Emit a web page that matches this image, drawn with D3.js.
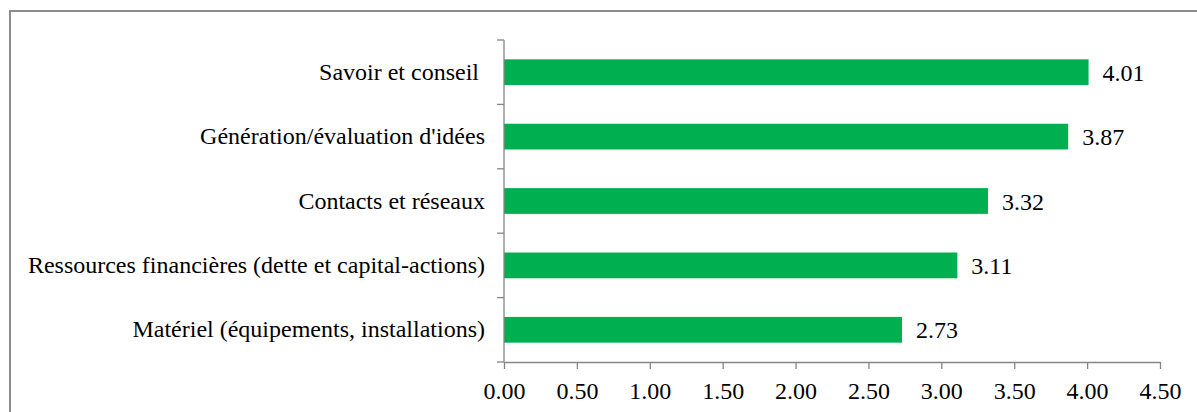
<!DOCTYPE html>
<html>
<head>
<meta charset="utf-8">
<script src="https://cdn.jsdelivr.net/npm/d3@7/dist/d3.min.js"></script>
<style>
  html, body { margin: 0; padding: 0; background: #fff; }
  svg { display: block; }
  text { font-family: "Liberation Serif", "Times New Roman", serif; fill: #000; }
</style>
</head>
<body>
<svg id="chart" width="1197" height="412"></svg>
<script>
const categories = [
  "Savoir et conseil ",
  "Génération/évaluation d'idées",
  "Contacts et réseaux",
  "Ressources financières (dette et capital-actions)",
  "Matériel (équipements, installations)"
];
const values = [4.01, 3.87, 3.32, 3.11, 2.73];
const xTicks = [0, 0.5, 1, 1.5, 2, 2.5, 3, 3.5, 4, 4.5];

const svg = d3.select("#chart");
const W = 1197, H = 412;
const plot = { left: 504, right: 1160, top: 40, bottom: 362 };
const axisColor = "#868686";
const barColor = "#00B050";
const fontSize = 24;

// outer border (extends past the viewport right/bottom)
svg.append("rect")
  .attr("x", 10).attr("y", 11)
  .attr("width", W + 20).attr("height", H + 20)
  .attr("fill", "none").attr("stroke", "#8c8c8c").attr("stroke-width", 2);

const x = d3.scaleLinear().domain([0, 4.5]).range([plot.left, plot.right]);
const y = d3.scaleBand().domain(categories).range([plot.top, plot.bottom])
  .paddingInner(0.6).paddingOuter(0.3);

// bars
svg.append("g").selectAll("rect").data(categories).join("rect")
  .attr("x", x(0))
  .attr("y", d => y(d))
  .attr("width", (d, i) => x(values[i]) - x(0))
  .attr("height", y.bandwidth())
  .attr("fill", barColor);

// value labels
svg.append("g").selectAll("text").data(categories).join("text")
  .attr("x", (d, i) => x(values[i]) + 14)
  .attr("y", d => y(d) + y.bandwidth() / 2)
  .attr("dy", "0.36em")
  .attr("font-size", fontSize)
  .text((d, i) => values[i].toFixed(2));

// x axis
const xAxis = svg.append("g")
  .attr("transform", `translate(0,${plot.bottom})`)
  .call(d3.axisBottom(x).tickValues(xTicks).tickFormat(d3.format(".2f"))
    .tickSize(7).tickSizeOuter(0).tickPadding(13));
xAxis.select(".domain").attr("stroke", axisColor).attr("stroke-width", 1.3);
xAxis.selectAll(".tick line").attr("stroke", axisColor).attr("stroke-width", 1.3);
xAxis.selectAll(".tick text")
  .attr("font-size", fontSize)
  .attr("font-family", "Liberation Serif, Times New Roman, serif")
  .attr("fill", "#000");

// y axis line and boundary ticks
const step = y.step();
const yStart = y.range()[0];
const gy = svg.append("g");
gy.append("line")
  .attr("x1", x(0)).attr("x2", x(0))
  .attr("y1", plot.top).attr("y2", plot.bottom)
  .attr("stroke", axisColor).attr("stroke-width", 1.3);
gy.selectAll("line.tk").data(d3.range(categories.length + 1)).join("line")
  .attr("class", "tk")
  .attr("x1", x(0) - 7).attr("x2", x(0))
  .attr("y1", i => yStart + i * step).attr("y2", i => yStart + i * step)
  .attr("stroke", axisColor).attr("stroke-width", 1.3);

// category labels
gy.selectAll("text").data(categories).join("text")
  .attr("x", x(0) - 19)
  .attr("y", d => y(d) + y.bandwidth() / 2)
  .attr("dy", "0.32em")
  .attr("text-anchor", "end")
  .attr("font-size", fontSize)
  .style("white-space", "pre")
  .attr("xml:space", "preserve")
  .text(d => d);
</script>
</body>
</html>
